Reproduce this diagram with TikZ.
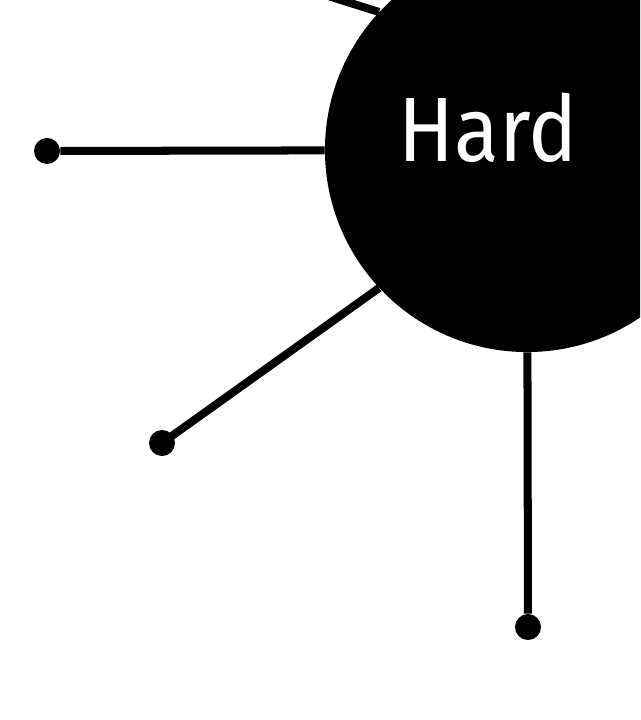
\documentclass[tikz,border=0pt]{standalone}
\usepackage{fontspec}
\newfontfamily\labelfont{Fira Sans}
\begin{document}
\begin{tikzpicture}[x=0.025cm,y=-0.025cm,
  hubstyle/.style={circle,fill=black,draw=none,minimum size=10.1cm,inner sep=0pt},
  dotstyle/.style={circle,fill=black,draw=none,minimum size=0.65cm,inner sep=0pt},
  spoke/.style={draw=black,line width=5.7pt},
  hubtext/.style={text=white,font=\labelfont\fontsize{65}{78}\selectfont,inner sep=0pt,xscale=0.9}]
\useasboundingbox (0,0) rectangle (640,720);
\clip (0,0) rectangle (640,720);
\fill[white] (0,0) rectangle (640,720);
\node[hubstyle] (hub) at (527,150) {};
\node[dotstyle] (d1) at (47,151) {};
\node[dotstyle] (d2) at (162,443) {};
\node[dotstyle] (d3) at (528,627) {};
\coordinate (topend) at (290,-16);
\draw[spoke] (d1) -- (hub);
\draw[spoke] (d2.center) -- (hub.223.6);
\draw[spoke] (d3) -- (hub);
\draw[spoke] (topend) -- (hub.137.2);
\node[hubtext,anchor=base] (label) at (488,162) {Hard};
\end{tikzpicture}
\end{document}
